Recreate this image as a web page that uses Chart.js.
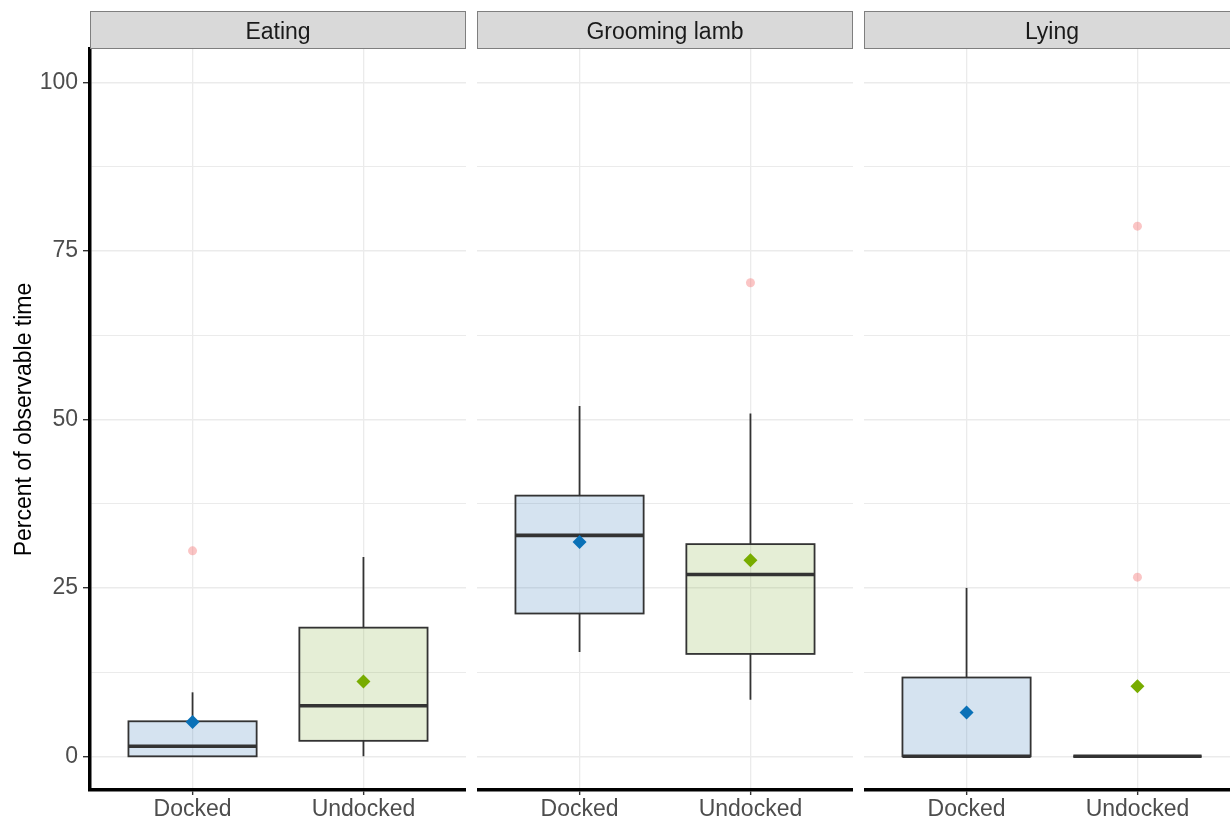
<!DOCTYPE html>
<html>
<head>
<meta charset="utf-8">
<script src="https://cdn.jsdelivr.net/npm/chart.js@4.4.1/dist/chart.umd.min.js"></script>
<style>
  html, body { margin: 0; padding: 0; background: #ffffff; }
  body { width: 1230px; height: 817px; overflow: hidden; position: relative; }
  canvas { position: absolute; top: 0; }
</style>
</head>
<body>
<canvas id="panel0" width="466" height="817" style="left:0px"></canvas>
<canvas id="panel1" width="376" height="817" style="left:477px"></canvas>
<canvas id="panel2" width="376" height="817" style="left:864px"></canvas>
<script>
// Facets and groups
const behaviours = ['Eating', 'Grooming lamb', 'Lying'];
const groups = ['Docked', 'Undocked'];
const yTicks = [0, 25, 50, 75, 100];
const yMinorTicks = [12.5, 37.5, 62.5, 87.5];

// Box-plot summaries per behaviour, each as [Docked, Undocked]
const whiskerLow  = [[0, 0],      [15.5, 8.4],  [0, 0]];
const lowerQuart  = [[0, 2.3],    [21.2, 15.2], [0, 0]];
const medians     = [[1.5, 7.5],  [32.8, 27.0], [0, 0]];
const upperQuart  = [[5.2, 19.1], [38.7, 31.5], [11.7, 0]];
const whiskerHigh = [[9.5, 29.6], [52.0, 50.9], [25.0, 0]];
const means       = [[5.1, 11.1], [31.8, 29.1], [6.5, 10.4]];
const outliers    = [[[30.5], []], [[], [70.3]], [[], [78.7, 26.6]]];

const FONT = "'Liberation Sans', Arial, Helvetica, sans-serif";
Chart.defaults.font.family = FONT;

const boxFills = ['rgba(47,117,181,0.2)', 'rgba(125,170,50,0.2)'];
const meanColours = ['#0A71B7', '#78AC00'];
const outlierColour = 'rgba(245,110,110,0.4)';
const BOX_WIDTH = 0.75;

// Draws whiskers, boxes and medians beneath the point datasets
const boxPlugin = {
  id: 'boxes',
  beforeDatasetsDraw(chart, args, opts) {
    const ctx = chart.ctx;
    const x = chart.scales.x, y = chart.scales.y;
    const p = opts.panel;
    ctx.save();
    ctx.strokeStyle = '#333333';
    groups.forEach((g, i) => {
      const c = i + 1;
      const cx = x.getPixelForValue(c);
      const l = x.getPixelForValue(c - BOX_WIDTH / 2);
      const r = x.getPixelForValue(c + BOX_WIDTH / 2);
      const yLo = y.getPixelForValue(whiskerLow[p][i]);
      const yQ1 = y.getPixelForValue(lowerQuart[p][i]);
      const yMed = y.getPixelForValue(medians[p][i]);
      const yQ3 = y.getPixelForValue(upperQuart[p][i]);
      const yHi = y.getPixelForValue(whiskerHigh[p][i]);
      ctx.lineWidth = 1.8;
      ctx.beginPath();
      ctx.moveTo(cx, yLo); ctx.lineTo(cx, yQ1);
      ctx.moveTo(cx, yQ3); ctx.lineTo(cx, yHi);
      ctx.stroke();
      ctx.fillStyle = boxFills[i];
      ctx.fillRect(l, yQ3, r - l, yQ1 - yQ3);
      ctx.strokeRect(l, yQ3, r - l, yQ1 - yQ3);
      ctx.lineWidth = 3.6;
      ctx.beginPath();
      ctx.moveTo(l, yMed); ctx.lineTo(r, yMed);
      ctx.stroke();
    });
    ctx.restore();
  }
};

// Grey facet header above each panel
const stripPlugin = {
  id: 'strip',
  afterDraw(chart, args, opts) {
    const ctx = chart.ctx;
    const { left, right, top } = chart.chartArea;
    ctx.save();
    ctx.fillStyle = '#D9D9D9';
    ctx.fillRect(left, top - 38, right - left, 38);
    ctx.strokeStyle = '#7F7F7F';
    ctx.lineWidth = 1;
    ctx.strokeRect(left + 0.5, top - 37.5, right - left - 1, 37);
    ctx.fillStyle = '#1A1A1A';
    ctx.font = '23px ' + FONT;
    ctx.textAlign = 'center';
    ctx.textBaseline = 'alphabetic';
    ctx.fillText(opts.label, (left + right) / 2, top - 10);
    ctx.restore();
  }
};

const isMajor = c => c && c.tick && yTicks.includes(c.tick.value);

behaviours.forEach((name, p) => {
  const first = p === 0;
  const datasets = [
    {
      label: 'Outliers',
      data: groups.flatMap((g, i) => outliers[p][i].map(v => ({ x: i + 1, y: v }))),
      pointRadius: 4.5,
      pointBackgroundColor: outlierColour,
      pointBorderWidth: 0
    }
  ];
  groups.forEach((g, i) => {
    datasets.push({
      label: g + ' mean',
      data: [{ x: i + 1, y: means[p][i] }],
      pointStyle: 'rectRot',
      pointRadius: 7,
      pointBackgroundColor: meanColours[i],
      pointBorderWidth: 0
    });
  });

  new Chart(document.getElementById('panel' + p), {
    type: 'scatter',
    data: { datasets },
    plugins: [boxPlugin, stripPlugin],
    options: {
      responsive: false,
      animation: false,
      events: [],
      layout: { autoPadding: false, padding: { top: 49, left: 0, right: 0, bottom: 0 } },
      plugins: {
        legend: { display: false },
        tooltip: { enabled: false },
        boxes: { panel: p },
        strip: { label: name }
      },
      scales: {
        x: {
          type: 'linear',
          min: 0.4,
          max: 2.6,
          afterBuildTicks: s => { s.ticks = groups.map((g, i) => ({ value: i + 1 })); },
          afterFit: s => { s.height = 27; s.paddingLeft = 0; s.paddingRight = 0; },
          ticks: {
            callback: v => groups[v - 1] || '',
            color: '#4D4D4D',
            font: { size: 23 },
            padding: 1,
            maxRotation: 0,
            autoSkip: false
          },
          grid: { color: '#EBEBEB', lineWidth: 1.3, tickColor: '#333333', tickWidth: 1.4, tickLength: 5 },
          border: { display: true, color: '#000000', width: 3.5 }
        },
        y: {
          type: 'linear',
          min: -5,
          max: 105,
          afterBuildTicks: s => {
            s.ticks = yTicks.concat(yMinorTicks).sort((a, b) => a - b).map(v => ({ value: v }));
          },
          afterFit: s => { s.width = first ? 90 : 0; s.paddingTop = 0; s.paddingBottom = 0; },
          ticks: {
            display: first,
            callback: v => yTicks.includes(v) ? String(v) : '',
            color: '#4D4D4D',
            font: { size: 23 },
            padding: 5
          },
          grid: {
            color: '#EBEBEB',
            lineWidth: c => isMajor(c) ? 1.4 : 1.0,
            drawTicks: first,
            tickLength: 7,
            tickWidth: 1.4,
            tickColor: c => isMajor(c) ? '#333333' : 'rgba(0,0,0,0)'
          },
          border: { display: first, color: '#000000', width: 3.5 },
          title: {
            display: first,
            text: 'Percent of observable time',
            color: '#000000',
            font: { size: 23 },
            padding: { top: 11, bottom: 0 }
          }
        }
      }
    }
  });
});
</script>
</body>
</html>
